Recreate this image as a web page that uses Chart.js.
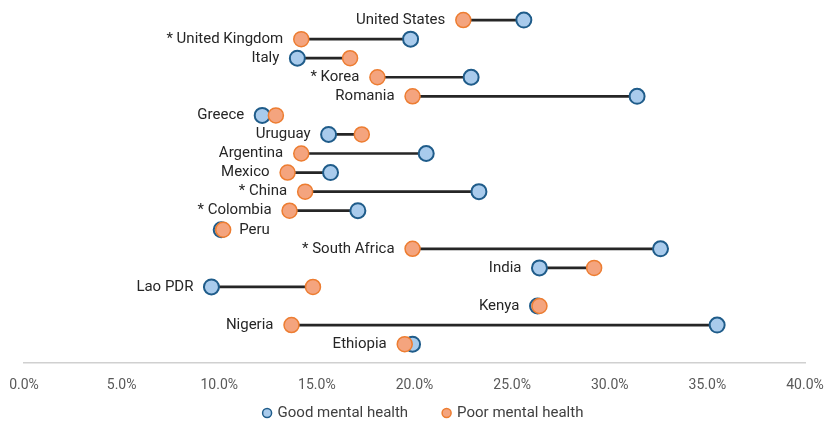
<!DOCTYPE html>
<html>
<head>
<meta charset="utf-8">
<script src="https://cdn.jsdelivr.net/npm/chart.js@4.4.1/dist/chart.umd.min.js"></script>
<style>
  html, body { margin: 0; padding: 0; background: #ffffff; }
  #wrap { width: 828px; height: 427px; }
</style>
</head>
<body>
<div id="wrap"><canvas id="gapChart"></canvas></div>
<script>
// Share of respondents, by country (percent)
const countries = [
    'United States', '* United Kingdom', 'Italy', '* Korea', 'Romania',
    'Greece', 'Uruguay', 'Argentina', 'Mexico', '* China', '* Colombia',
    'Peru', '* South Africa', 'India', 'Lao PDR', 'Kenya', 'Nigeria', 'Ethiopia'
];
const goodHealth = [25.6, 19.8, 14.0, 22.9, 31.4, 12.2, 15.6, 20.6, 15.7, 23.3, 17.1, 10.1, 32.6, 26.4, 9.6, 26.3, 35.5, 19.9];
const poorHealth = [22.5, 14.2, 16.7, 18.1, 19.9, 12.9, 17.3, 14.2, 13.5, 14.4, 13.6, 10.2, 19.9, 29.2, 14.8, 26.4, 13.7, 19.5];
const xTicks = [0, 5, 10, 15, 20, 25, 30, 35, 40];

// countries whose name sits to the right of the dots
const labelOnRight = ['Peru'];

const BLUE_FILL = '#a9cbec';
const BLUE_EDGE = '#1f5c8a';
const ORANGE_FILL = '#f4a47e';
const ORANGE_EDGE = '#ed7d31';
const TEXT_FONT = '15px Roboto';

// Write each country name beside its pair of dots
const countryLabels = {
    id: 'countryLabels',
    afterDatasetsDraw(chart) {
        const ctx = chart.ctx;
        const good = chart.getDatasetMeta(1).data;
        const poor = chart.getDatasetMeta(2).data;
        ctx.save();
        ctx.font = TEXT_FONT;
        ctx.fillStyle = '#262626';
        ctx.textBaseline = 'middle';
        countries.forEach((name, i) => {
            const a = good[i], b = poor[i];
            const y = a.y;
            if (labelOnRight.includes(name)) {
                ctx.textAlign = 'left';
                ctx.fillText(name, Math.max(a.x, b.x) + 16, y);
            } else {
                ctx.textAlign = 'right';
                ctx.fillText(name, Math.min(a.x, b.x) - 18, y);
            }
        });
        ctx.restore();
    }
};

// Small legend under the axis: dot + series name, two entries in a row
const dotLegend = {
    id: 'dotLegend',
    afterDraw(chart) {
        const ctx = chart.ctx;
        const items = chart.data.datasets.slice(1);
        const r = 4.5, textGap = 6, itemGap = 34;
        ctx.save();
        ctx.font = TEXT_FONT;
        const widths = items.map(ds => 2 * r + textGap + ctx.measureText(ds.label).width);
        const total = widths.reduce((s, w) => s + w, 0) + itemGap * (items.length - 1);
        let x = chart.width / 2 + 9 - total / 2;
        const y = chart.height - 14;
        items.forEach((ds, k) => {
            ctx.beginPath();
            ctx.arc(x + r, y, r, 0, Math.PI * 2);
            ctx.fillStyle = ds.backgroundColor;
            ctx.fill();
            ctx.lineWidth = 1.5;
            ctx.strokeStyle = ds.borderColor;
            ctx.stroke();
            ctx.fillStyle = '#404040';
            ctx.textAlign = 'left';
            ctx.textBaseline = 'middle';
            ctx.fillText(ds.label, x + 2 * r + textGap, y);
            x += widths[k] + itemGap;
        });
        ctx.restore();
    }
};

const ctx = document.getElementById('gapChart').getContext('2d');

new Chart(ctx, {
    type: 'bar',
    data: {
        datasets: [
            {
                // connector between the two dots
                label: 'gap',
                data: countries.map((c, i) => ({ y: i, x: [goodHealth[i], poorHealth[i]] })),
                backgroundColor: '#262626',
                barThickness: 2,
                order: 3
            },
            {
                type: 'scatter',
                label: 'Good mental health',
                data: goodHealth.map((v, i) => ({ x: v, y: i })),
                backgroundColor: BLUE_FILL,
                borderColor: BLUE_EDGE,
                borderWidth: 2,
                pointRadius: 7.5,
                pointHoverRadius: 7.5,
                order: 2
            },
            {
                type: 'scatter',
                label: 'Poor mental health',
                data: poorHealth.map((v, i) => ({ x: v, y: i })),
                backgroundColor: ORANGE_FILL,
                borderColor: ORANGE_EDGE,
                borderWidth: 1.5,
                pointRadius: 7.5,
                pointHoverRadius: 7.5,
                order: 1
            }
        ]
    },
    options: {
        indexAxis: 'y',
        responsive: true,
        maintainAspectRatio: false,
        animation: false,
        layout: {
            autoPadding: false,
            padding: { left: 24, right: 23, top: 1, bottom: 27 }
        },
        scales: {
            x: {
                type: 'linear',
                min: 0,
                max: 40,
                afterBuildTicks: axis => {
                    axis.ticks = xTicks.map(v => ({ value: v }));
                },
                // the outer labels may hang past the plot edges
                afterFit: axis => {
                    axis.paddingLeft = 0;
                    axis.paddingRight = 0;
                },
                grid: { display: false },
                border: { display: true, color: '#d0d0d0', width: 1.5 },
                ticks: {
                    color: '#595959',
                    padding: 6,
                    font: { family: 'Roboto', size: 14 },
                    callback: v => v.toFixed(1) + '%'
                }
            },
            y: {
                // one row per country, with a spare row above the first and below the last
                type: 'linear',
                reverse: true,
                offset: false,
                bounds: 'data',
                min: -1,
                max: countries.length,
                ticks: { stepSize: 1 },
                display: false
            }
        },
        plugins: {
            legend: { display: false },
            tooltip: { enabled: false }
        }
    },
    plugins: [countryLabels, dotLegend]
});
</script>
</body>
</html>
